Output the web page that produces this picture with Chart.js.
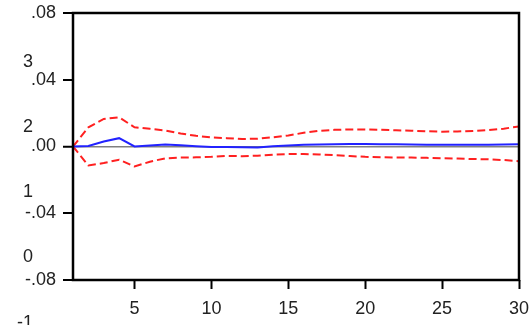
<!DOCTYPE html>
<html>
<head>
<meta charset="utf-8">
<script src="https://cdn.jsdelivr.net/npm/chart.js@4.4.1/dist/chart.umd.min.js"></script>
<style>
  html, body { margin: 0; padding: 0; background: #fff; }
  #wrap { width: 531px; height: 325px; position: relative; }
</style>
</head>
<body>
<div id="wrap"><canvas id="c"></canvas></div>
<script>
// Periods after the shock
const steps = [1,2,3,4,5,6,7,8,9,10,11,12,13,14,15,16,17,18,19,20,21,22,23,24,25,26,27,28,29,30];

// Impulse response and its ±2 S.E. band
const response = [0, 0.0003, 0.003, 0.005, 0.0, 0.0006, 0.0012, 0.0007, 0.0001, -0.0003,
  -0.0003, -0.0005, -0.0006, 0.0001, 0.0006, 0.001, 0.0012, 0.0014, 0.0015, 0.0015,
  0.0014, 0.0013, 0.0012, 0.0011, 0.001, 0.001, 0.001, 0.0011, 0.0012, 0.0013];
const upperBand = [0, 0.0115, 0.0165, 0.0175, 0.0115, 0.0106, 0.0096, 0.0078, 0.0064, 0.0054,
  0.005, 0.0045, 0.0047, 0.0055, 0.0066, 0.0082, 0.0094, 0.01, 0.0102, 0.0102,
  0.01, 0.0097, 0.0095, 0.0091, 0.0089, 0.009, 0.0093, 0.0098, 0.0107, 0.012];
const lowerBand = [0, -0.0114, -0.0099, -0.0079, -0.012, -0.0091, -0.0071, -0.0066, -0.0065, -0.0062,
  -0.0056, -0.0058, -0.0055, -0.0049, -0.0045, -0.0045, -0.0048, -0.0052, -0.0057, -0.0062,
  -0.0064, -0.0066, -0.0066, -0.0068, -0.007, -0.0072, -0.0075, -0.0077, -0.0081, -0.0088];

// Axis tick labels
const xTicks = [5, 10, 15, 20, 25, 30];
const yTicks = [-0.08, -0.04, 0, 0.04, 0.08];
const sideLabels = ['3', '2', '1', '0', '-1'];

const FONT = { family: '"Liberation Sans", Arial, sans-serif', size: 18 };
const pts = arr => arr.map((v, i) => ({ x: steps[i], y: v }));

// Frame around the plot area plus the secondary labels down the left edge
const framePlugin = {
  id: 'frame',
  afterDraw(chart) {
    const { ctx, chartArea: a, scales } = chart;
    ctx.save();
    ctx.strokeStyle = '#000';
    ctx.lineWidth = 2.5;
    ctx.strokeRect(a.left, a.top, a.right - a.left, a.bottom - a.top);

    ctx.fillStyle = '#222';
    ctx.font = `${FONT.size}px ${FONT.family}`;
    ctx.textAlign = 'right';
    ctx.textBaseline = 'middle';
    const y = scales.y;
    sideLabels.forEach((t, i) => {
      const v = -0.0665 + (3 - i) * 0.0391;
      ctx.fillText(t, 33, y.getPixelForValue(v));
    });
    ctx.restore();
  }
};

new Chart(document.getElementById('c'), {
  type: 'line',
  data: {
    datasets: [
      { data: pts(response), borderColor: '#2222ff', borderWidth: 2, pointRadius: 0, tension: 0, fill: false },
      { data: pts(upperBand), borderColor: '#ff2020', borderWidth: 2, borderDash: [8, 4], pointRadius: 0, tension: 0, fill: false },
      { data: pts(lowerBand), borderColor: '#ff2020', borderWidth: 2, borderDash: [8, 4], pointRadius: 0, tension: 0, fill: false }
    ]
  },
  options: {
    responsive: true,
    maintainAspectRatio: false,
    animation: false,
    events: [],
    layout: { padding: { top: 13, right: 12, left: 0, bottom: 0 } },
    plugins: { legend: { display: false }, tooltip: { enabled: false } },
    scales: {
      x: {
        type: 'linear',
        min: 1,
        max: 30,
        border: { display: false },
        afterBuildTicks: s => { s.ticks = xTicks.map(v => ({ value: v })); },
        afterFit: s => { s.height = 45; s.paddingLeft = 0; s.paddingRight = 0; },
        grid: { drawOnChartArea: false, drawTicks: true, tickLength: 9, tickColor: '#000', tickWidth: 2 },
        ticks: { color: '#222', font: FONT, padding: 9, maxRotation: 0, autoSkip: false }
      },
      y: {
        min: -0.08,
        max: 0.08,
        border: { display: false },
        afterBuildTicks: s => { s.ticks = yTicks.map(v => ({ value: v })); },
        afterFit: s => { s.width = 73; s.paddingTop = 0; s.paddingBottom = 0; },
        grid: {
          drawTicks: true,
          tickLength: 10,
          tickColor: '#000',
          tickWidth: 2,
          color: c => (c.tick && c.tick.value === 0 ? '#808080' : 'rgba(0,0,0,0)'),
          lineWidth: c => (c.tick && c.tick.value === 0 ? 1.5 : 0)
        },
        ticks: {
          color: '#222',
          font: FONT,
          padding: 7,
          callback: v => {
            const s = Number(v).toFixed(2);
            return s.replace(/^(-?)0\./, '$1.');
          }
        }
      }
    }
  },
  plugins: [framePlugin]
});
</script>
</body>
</html>
